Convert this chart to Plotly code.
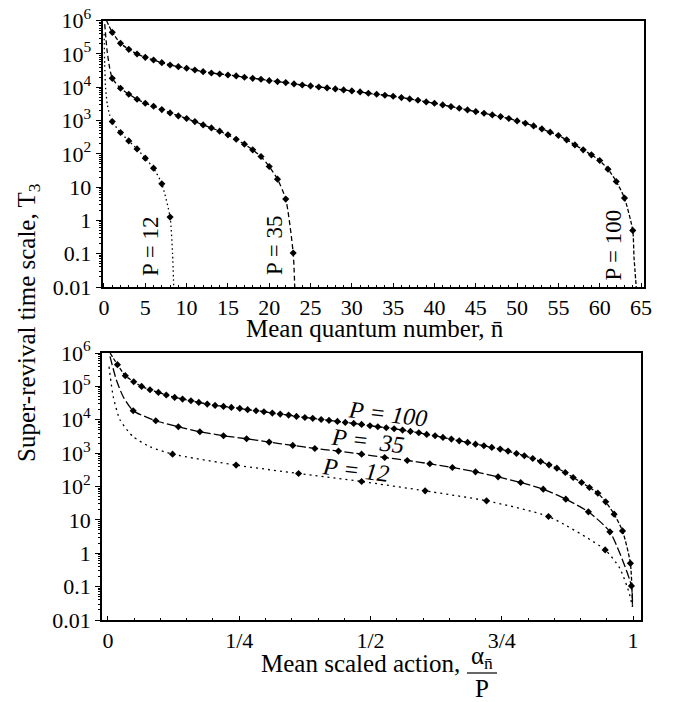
import plotly.graph_objects as go

FONT = "Liberation Serif"

# ---------------- upper panel: T3 against mean quantum number ----------------
n_p100 = list(range(1, 65))
t3_p100 = [4.47e5, 2.09e5, 1.38e5, 1.00e5, 7.94e4, 6.61e4, 5.50e4, 4.68e4, 4.17e4, 3.72e4,
           3.31e4, 2.95e4, 2.69e4, 2.51e4, 2.34e4, 2.19e4, 2.00e4, 1.86e4, 1.74e4, 1.58e4,
           1.48e4, 1.38e4, 1.26e4, 1.17e4, 1.10e4, 1.02e4, 9550, 8910, 8320, 7760,
           7240, 6610, 6170, 5750, 5370, 4900, 4470, 4070, 3630, 3310,
           2950, 2630, 2340, 2090, 1860, 1660, 1480, 1320, 1150, 977,
           832, 692, 562, 447, 355, 263, 186, 132, 93.3, 63.1,
           34.7, 14.8, 4.68, 0.50]

n_p35 = [1, 2, 3, 4, 5, 6, 7, 8, 9, 10, 11, 12, 13, 14, 15, 16, 17, 18, 19, 20, 21, 22, 22.9]
t3_p35 = [1.86e4, 9330, 6170, 4370, 3310, 2690, 2140, 1700, 1380, 1150, 933, 741, 603,
          479, 372, 275, 195, 132, 83.2, 41.7, 17.4, 4.37, 0.105]

n_p12 = [1, 2, 3, 4, 5, 6, 7, 8]
t3_p12 = [933, 437, 245, 141, 74.1, 37.2, 12.6, 1.26]

# continuous curves run past the sampled points at both ends
head_n = {100: [0.32], 35: [0.09, 0.37, 0.67], 12: [0.02, 0.083, 0.19, 0.40, 0.66]}
head_t = {100: [1.0e6], 35: [7.9e5, 1.3e5, 4.0e4], 12: [4.0e5, 4.9e4, 9.8e3, 3.1e3, 1.55e3]}
tail_n = {100: [64.15, 64.45], 35: [23.1], 12: [8.30, 8.45]}
tail_t = {100: [0.08, 0.008], 35: [0.008], 12: [0.10, 0.008]}

# ---------------- lower panel: T3 against mean scaled action ----------------
a_p100 = [0.018, 0.033, 0.049, 0.064, 0.080, 0.096, 0.111, 0.127, 0.142, 0.158,
          0.173, 0.189, 0.204, 0.220, 0.235, 0.251, 0.266, 0.282, 0.297, 0.313,
          0.328, 0.344, 0.359, 0.375, 0.390, 0.406, 0.421, 0.437, 0.452, 0.468,
          0.483, 0.499, 0.514, 0.530, 0.545, 0.561, 0.576, 0.592, 0.607, 0.623,
          0.638, 0.654, 0.669, 0.685, 0.700, 0.716, 0.731, 0.747, 0.762, 0.778,
          0.793, 0.809, 0.824, 0.840, 0.855, 0.871, 0.886, 0.902, 0.917, 0.933,
          0.948, 0.964, 0.980, 0.995]
a_p35 = [0.048, 0.091, 0.134, 0.175, 0.220, 0.264, 0.307, 0.352, 0.394, 0.439, 0.483,
         0.527, 0.570, 0.613, 0.656, 0.700, 0.743, 0.786, 0.829, 0.872, 0.915, 0.956, 0.997]
a_p12 = [0.123, 0.244, 0.363, 0.483, 0.604, 0.721, 0.839, 0.947]

head_a = {100: [0.004], 35: [0.0038, 0.016, 0.029], 12: [0.002, 0.010, 0.023, 0.048, 0.080]}
head_at = {100: [1.0e6], 35: [7.9e5, 1.55e5, 4.9e4], 12: [3.9e5, 4.9e4, 9.8e3, 3.1e3, 1.55e3]}
tail_a = {100: [0.999], 35: [0.999], 12: [0.975, 0.992, 0.999]}
tail_at = {100: [0.025], 35: [0.025], 12: [0.35, 0.07, 0.025]}

y_ticks = [0.01, 0.1, 1, 10, 1e2, 1e3, 1e4, 1e5, 1e6]
y_text = ["0.01", "0.1", "1", "10", "10<sup>2</sup>", "10<sup>3</sup>",
          "10<sup>4</sup>", "10<sup>5</sup>", "10<sup>6</sup>"]
n_ticks = list(range(0, 70, 5))
a_ticks = [0, 0.25, 0.5, 0.75, 1]
a_text = ["0", "1/4", "1/2", "3/4", "1"]

series_top = {100: (n_p100, t3_p100), 35: (n_p35, t3_p35), 12: (n_p12, t3_p12)}
series_bot = {100: (a_p100, t3_p100), 35: (a_p35, t3_p35), 12: (a_p12, t3_p12)}
dash_top = {100: "4px,2px", 35: "5px,3px", 12: "1.5px,3px"}
dash_bot = {100: "4px,2px", 35: "9px,3px", 12: "2px,4px"}

fig = go.Figure()

for p in (100, 35, 12):
    xs, ys = series_top[p]
    fig.add_trace(go.Scatter(
        x=head_n[p] + xs + tail_n[p], y=head_t[p] + ys + tail_t[p],
        mode="lines", line=dict(color="black", width=1.3, dash=dash_top[p],
                                shape="spline", smoothing=0.6),
        xaxis="x", yaxis="y", hoverinfo="skip"))
    fig.add_trace(go.Scatter(
        x=xs, y=ys, mode="markers",
        marker=dict(symbol="diamond", size=5.5, color="black"),
        xaxis="x", yaxis="y"))

    xs, ys = series_bot[p]
    fig.add_trace(go.Scatter(
        x=head_a[p] + xs + tail_a[p], y=head_at[p] + ys + tail_at[p],
        mode="lines", line=dict(color="black", width=1.3, dash=dash_bot[p],
                                shape="spline", smoothing=0.6),
        xaxis="x2", yaxis="y2", hoverinfo="skip"))
    fig.add_trace(go.Scatter(
        x=xs, y=ys, mode="markers",
        marker=dict(symbol="diamond", size=5.5, color="black"),
        xaxis="x2", yaxis="y2"))

W, H = 678, 702
axis_common = dict(showline=True, mirror=True, linecolor="black", linewidth=1.6,
                   showgrid=False, zeroline=False, automargin=False,
                   tickfont=dict(family=FONT, size=22, color="black"))

fig.update_layout(
    width=W, height=H, margin=dict(l=0, r=0, t=0, b=0, autoexpand=False),
    paper_bgcolor="white", plot_bgcolor="white", showlegend=False,
    font=dict(family=FONT, size=22, color="black"),
    xaxis=dict(domain=[102.5 / W, 643.5 / W], range=[-0.18, 65.3], anchor="y",
               tickmode="array", tickvals=n_ticks, ticks="inside", ticklen=4,
               tickcolor="black",
               minor=dict(ticks="inside", ticklen=2, dtick=1, tickcolor="black"),
               **axis_common),
    yaxis=dict(domain=[1 - 287 / H, 1 - 20.7 / H], type="log", range=[-2, 6], anchor="x",
               tickmode="array", tickvals=y_ticks, ticktext=y_text, ticks="outside",
               ticklen=5, tickcolor="black",
               minor=dict(ticks="outside", ticklen=2, dtick="D1", tickcolor="black"),
               **axis_common),
    xaxis2=dict(domain=[102 / W, 641 / W], range=[-0.0114, 1.0152], anchor="y2",
                tickmode="array", tickvals=a_ticks, ticktext=a_text, ticks="inside",
                ticklen=4, tickcolor="black",
                minor=dict(ticks="inside", ticklen=2, dtick=0.05, tickcolor="black"),
                **axis_common),
    yaxis2=dict(domain=[1 - 620 / H, 1 - 353 / H], type="log", range=[-2, 6], anchor="x2",
                tickmode="array", tickvals=y_ticks, ticktext=y_text, ticks="outside",
                ticklen=5, tickcolor="black",
                minor=dict(ticks="outside", ticklen=2, dtick="D1", tickcolor="black"),
                **axis_common),
)


def label(text, x, y, xref="paper", yref="paper", angle=0, size=25):
    return dict(text=text, x=x, y=y, xref=xref, yref=yref, textangle=angle,
                xanchor="center", yanchor="middle", showarrow=False,
                font=dict(family=FONT, size=size, color="black"))


ann = [
    label("Super-revival time scale, T<sub>3</sub>", 28 / W, 1 - 323 / H, angle=-90),
    label("Mean quantum number, n\u0304", 375 / W, 1 - 328 / H),
    label("Mean scaled action,", 360 / W, 1 - 663 / H),
    label("\u03b1<sub>n\u0304</sub>", 482 / W, 1 - 657 / H),
    label("P", 482 / W, 1 - 688 / H),
]

# curve labels, upper panel (vertical)
for txt, xv, yv in (("P = 12", 5.56, -0.77), ("P = 35", 20.56, -0.74),
                     ("P = 100", 61.67, -0.74)):
    ann.append(label(txt, xv, yv, xref="x", yref="y", angle=-90, size=23))

# curve labels, lower panel (italic, slightly tilted)
for txt, xv, yv in (("<i>P = 100</i>", 0.533, 4.17), ("<i>P =\u00a0 35</i>", 0.495, 3.37),
                    ("<i>P = 12</i>", 0.472, 2.50)):
    ann.append(label(txt, xv, yv, xref="x2", yref="y2", angle=7, size=24))

fig.update_layout(annotations=ann)
fig.add_shape(type="line", xref="paper", yref="paper",
              x0=467 / W, x1=497 / W, y0=1 - 673 / H, y1=1 - 673 / H,
              line=dict(color="black", width=1.2))

fig.write_html("out.html")
